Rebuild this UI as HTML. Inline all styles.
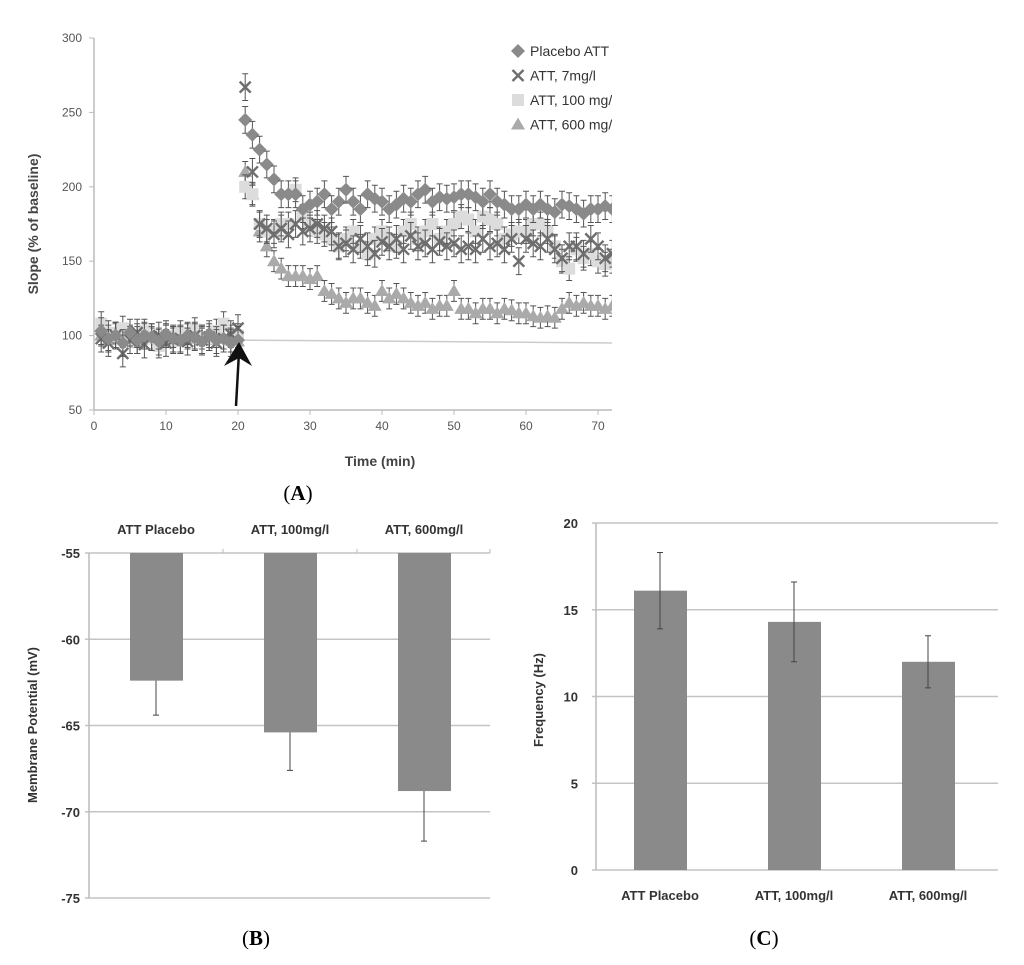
<!DOCTYPE html>
<html><head><meta charset="utf-8"><style>
body{margin:0;background:#fff;width:1024px;height:965px;overflow:hidden}
svg{display:block}
text{font-family:"Liberation Sans",sans-serif}
text.serif{font-family:"Liberation Serif",serif}
</style></head><body>
<svg id="s" width="1024" height="965" xmlns="http://www.w3.org/2000/svg"></svg>
<script>
// ---------- Panel A data ----------
const timeStart = 1;
const placebo = [103,98,100,95,102,97,100,99,96,101,98,97,100,99,96,101,97,98,95,97,
245,235,225,215,205,195,195,195,185,188,190,195,185,190,198,190,185,195,192,190,185,188,192,190,195,198,190,193,192,193,195,195,193,190,195,190,188,185,185,188,185,188,185,183,188,187,185,182,185,185,187,185,187];
const att7 = [98,95,100,88,97,102,94,99,100,95,97,98,96,100,97,99,95,98,101,105,
267,210,175,172,168,172,168,175,170,172,175,172,170,160,162,158,165,160,155,163,160,165,158,167,160,162,158,163,160,162,158,160,158,165,160,162,158,165,150,165,162,160,165,158,152,160,160,155,165,160,152,155,155];
const att100 = [108,102,100,105,96,100,103,98,93,100,97,102,100,104,99,98,103,108,97,100,
200,195,175,170,170,175,175,198,180,175,170,168,165,160,165,170,160,155,165,170,165,160,170,175,165,170,175,165,170,175,180,178,170,180,178,175,165,168,170,170,175,175,170,160,150,145,158,152,155,150,148,150,150];
const att600 = [100,97,102,99,100,95,101,98,97,100,99,96,101,98,100,97,99,98,100,96,
210,195,170,160,150,145,140,140,140,138,140,130,128,125,122,125,125,122,120,130,125,128,125,122,120,122,118,120,120,130,118,118,115,118,118,115,118,117,115,115,113,112,113,112,118,122,120,122,120,120,118,120,120];
const errA = [9,9,8,7];
const xTicksA = [0,10,20,30,40,50,60,70];
const yTicksA = [50,100,150,200,250,300];
const legendLabels = ["Placebo ATT","ATT, 7mg/l","ATT, 100 mg/l","ATT, 600 mg/l"];
// ---------- Panel B data ----------
const catsB = ["ATT Placebo","ATT, 100mg/l","ATT, 600mg/l"];
const valsB = [-62.4,-65.4,-68.8];
const errB = [2.0,2.2,2.9];
const yTicksB = [-55,-60,-65,-70,-75];
// ---------- Panel C data ----------
const catsC = ["ATT Placebo","ATT, 100mg/l","ATT, 600mg/l"];
const valsC = [16.1,14.3,12.0];
const errC = [2.2,2.3,1.5];
const yTicksC = [0,5,10,15,20];

const S=document.getElementById('s');const NS="http://www.w3.org/2000/svg";
function mk(t,a,p){const e=document.createElementNS(NS,t);for(const k in a)e.setAttribute(k,a[k]);(p||S).appendChild(e);return e;}
function tx(x,y,str,a,p){const e=mk('text',Object.assign({x:x,y:y},a),p);e.textContent=str;return e;}

// ===== Panel A =====
const ax=t=>94+t*(504/70), ay=v=>410-(v-50)*(372/250);
const gA=mk('g',{});
mk('line',{x1:94,y1:38,x2:94,y2:410,stroke:'#bbb','stroke-width':1.5},gA);
mk('line',{x1:94,y1:410,x2:612,y2:410,stroke:'#bbb','stroke-width':1.5},gA);
yTicksA.forEach(v=>{mk('line',{x1:89,y1:ay(v),x2:94,y2:ay(v),stroke:'#bbb'},gA);
 const t=tx(82,ay(v)+4,v,{'text-anchor':'end','font-size':12,fill:'#555'},gA);});
xTicksA.forEach(v=>{mk('line',{x1:ax(v),y1:410,x2:ax(v),y2:415,stroke:'#bbb'},gA);
 const t=tx(ax(v),430,v,{'text-anchor':'middle','font-size':12,fill:'#555'},gA);});
let t=tx(0,0,'Slope (% of baseline)',{transform:'translate(38,224) rotate(-90)','text-anchor':'middle','font-size':14,'font-weight':'bold',fill:'#444'},gA);

t=tx(380,466,'Time (min)',{'text-anchor':'middle','font-size':14,'font-weight':'bold',fill:'#444'},gA);

mk('clipPath',{id:'cp'},gA);mk('rect',{x:30,y:30,width:582,height:385},document.getElementById('cp'));
const plot=mk('g',{'clip-path':'url(#cp)'},gA);
mk('line',{x1:ax(20),y1:ay(97),x2:ax(73),y2:ay(95),stroke:'#ccc','stroke-width':1.5},plot);
function marker(type,x,y,p){
 if(type==0) return mk('path',{d:`M${x} ${y-7}L${x+7} ${y}L${x} ${y+7}L${x-7} ${y}Z`,fill:'#8a8a8a'},p);
 if(type==1) return mk('path',{d:`M${x-5.5} ${y-5.5}L${x+5.5} ${y+5.5}M${x+5.5} ${y-5.5}L${x-5.5} ${y+5.5}`,stroke:'#6e6e6e','stroke-width':2.4},p);
 if(type==2) return mk('rect',{x:x-6,y:y-6,width:12,height:12,fill:'#dcdcdc'},p);
 return mk('path',{d:`M${x} ${y-7}L${x+7} ${y+5}L${x-7} ${y+5}Z`,fill:'#aaaaaa'},p);
}
const seriesA=[placebo,att7,att100,att600];
const snames=['series-placebo','series-7mg','series-100mg','series-600mg'];
[3,2,1,0].forEach(si=>{
 const g=mk('g',{},plot);
 seriesA[si].forEach((v,i)=>{const x=ax(timeStart+i),y=ay(v),e=errA[si]*372/250;
  mk('path',{d:`M${x} ${y-e}V${y+e}M${x-3} ${y-e}H${x+3}M${x-3} ${y+e}H${x+3}`,stroke:'#555','stroke-width':1},g);
  const m=marker(si,x,y,g);});
});
// legend
const lg=mk('g',{'clip-path':'url(#cp)'},gA);
legendLabels.forEach((l,i)=>{const y=51+i*24.5;marker(i,518,y,lg);
 const tt=tx(530,y+5,l,{'font-size':14,fill:'#333'},lg);});
// arrow
const arr=mk('g',{});
mk('line',{x1:236,y1:406,x2:239,y2:352,stroke:'#111','stroke-width':2.5},arr);
mk('path',{d:'M224 366L239 342L252 366L239 358Z',fill:'#111'},arr);
t=tx(298,500,'',{'text-anchor':'middle','font-size':21,'class':'serif'});
t.innerHTML='(<tspan font-weight="bold">A</tspan>)';

// ===== Panel B =====
const by=v=>553+(-55-v)*(345/20);
const gB=mk('g',{});
yTicksB.forEach(v=>{mk('line',{x1:85,y1:by(v),x2:490,y2:by(v),stroke:'#c4c4c4','stroke-width':1.5},gB);
 const tt=tx(80,by(v)+5,v,{'text-anchor':'end','font-size':13,'font-weight':'bold',fill:'#333'},gB);});
mk('line',{x1:89,y1:553,x2:89,y2:898,stroke:'#bbb','stroke-width':1.5},gB);
[223,357,490].forEach(x=>mk('line',{x1:x,y1:549,x2:x,y2:553,stroke:'#bbb'},gB));
catsB.forEach((c,i)=>{const cx=156+i*134;
 const b=mk('rect',{x:cx-26,y:553,width:53,height:by(valsB[i])-553,fill:'#8a8a8a'},gB);
 mk('path',{d:`M${cx} ${by(valsB[i])}V${by(valsB[i]-errB[i])}M${cx-3} ${by(valsB[i]-errB[i])}H${cx+3}`,stroke:'#444','stroke-width':1},gB);
 const tt=tx(cx,534,c,{'text-anchor':'middle','font-size':13,'font-weight':'bold',fill:'#333'},gB);});
t=tx(0,0,'Membrane Potential (mV)',{transform:'translate(37,725) rotate(-90)','text-anchor':'middle','font-size':13,'font-weight':'bold',fill:'#333'},gB);

t=tx(256,945,'',{'text-anchor':'middle','font-size':21,'class':'serif'});
t.innerHTML='(<tspan font-weight="bold">B</tspan>)';

// ===== Panel C =====
const cy=v=>870-v*(347/20);
const gC=mk('g',{});
yTicksC.forEach(v=>{mk('line',{x1:592,y1:cy(v),x2:998,y2:cy(v),stroke:'#c4c4c4','stroke-width':1.5},gC);
 const tt=tx(578,cy(v)+5,v,{'text-anchor':'end','font-size':13,'font-weight':'bold',fill:'#333'},gC);});
mk('line',{x1:596,y1:523,x2:596,y2:870,stroke:'#bbb','stroke-width':1.5},gC);
catsC.forEach((c,i)=>{const cx=660+i*134;
 const b=mk('rect',{x:cx-26,y:cy(valsC[i]),width:53,height:870-cy(valsC[i]),fill:'#8a8a8a'},gC);
 const t1=cy(valsC[i]+errC[i]),t2=cy(valsC[i]-errC[i]);
 mk('path',{d:`M${cx} ${t1}V${t2}M${cx-3} ${t1}H${cx+3}M${cx-3} ${t2}H${cx+3}`,stroke:'#444','stroke-width':1},gC);
 const tt=tx(cx,900,c,{'text-anchor':'middle','font-size':13,'font-weight':'bold',fill:'#333'},gC);});
t=tx(0,0,'Frequency (Hz)',{transform:'translate(543,700) rotate(-90)','text-anchor':'middle','font-size':13,'font-weight':'bold',fill:'#333'},gC);

t=tx(764,945,'',{'text-anchor':'middle','font-size':21,'class':'serif'});
t.innerHTML='(<tspan font-weight="bold">C</tspan>)';
</script>
</body></html>
